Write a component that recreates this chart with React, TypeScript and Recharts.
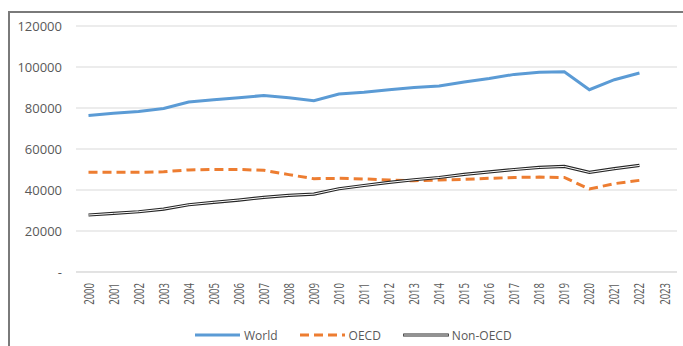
import React from 'react';
import { LineChart, Line, XAxis, YAxis, CartesianGrid, Legend } from 'recharts';

const years = [
  '2000', '2001', '2002', '2003', '2004', '2005', '2006', '2007', '2008', '2009', '2010', '2011',
  '2012', '2013', '2014', '2015', '2016', '2017', '2018', '2019', '2020', '2021', '2022', '2023',
];

const world = [
  76400, 77400, 78300, 79800, 82900, 84000, 85000, 86100, 85000, 83600, 86800, 87700,
  88900, 90000, 90700, 92700, 94400, 96400, 97400, 97700, 88900, 93800, 97100, null,
];

const oecd = [
  48600, 48600, 48600, 48900, 49800, 50000, 50000, 49600, 47500, 45500, 45700, 45400,
  44900, 44500, 44900, 45200, 45700, 46100, 46300, 46100, 40500, 43100, 44700, null,
];

const nonOecd = [
  27800, 28600, 29400, 30700, 32800, 34000, 35100, 36400, 37400, 38000, 40600, 42200,
  43700, 45000, 46100, 47600, 48800, 50000, 51000, 51500, 48600, 50400, 52000, null,
];

const yTicks = [0, 20000, 40000, 60000, 80000, 100000, 120000];

const data = years.map((year, i) => ({
  year,
  world: world[i],
  oecd: oecd[i],
  nonOecd: nonOecd[i],
}));

const FONT = '"Open Sans", "Noto Sans", sans-serif';
const TEXT = '#595959';

// Excel squeezes the rotated year labels, so they are narrowed along the text
const YearTick = (props: any) => {
  const { x, y, payload } = props;
  return (
    <text
      transform={`translate(${x},${y + 3}) rotate(-90) scale(0.68,1)`}
      textAnchor="end"
      dy="0.36em"
      fill={TEXT}
      fontSize={14}
      fontFamily={FONT}
    >
      {payload.value}
    </text>
  );
};

const LegendContent = () => {
  const item = (label: string, line: React.ReactNode, gapAfter: number) => (
    <div style={{ display: 'flex', alignItems: 'center', marginRight: gapAfter }}>
      <svg width={46} height={8} style={{ marginRight: 3 }}>
        {line}
      </svg>
      <span>{label}</span>
    </div>
  );
  return (
    <div
      style={{
        display: 'flex',
        alignItems: 'center',
        paddingLeft: 195,
        fontFamily: FONT,
        fontSize: 12,
        color: TEXT,
        height: 22,
      }}
    >
      {item('World', <line x1={0} y1={4} x2={45} y2={4} stroke="#5B9BD5" strokeWidth={3} />, 22)}
      {item(
        'OECD',
        <line x1={0} y1={4} x2={45} y2={4} stroke="#ED7D31" strokeWidth={3} strokeDasharray="9 5" />,
        22,
      )}
      {item(
        'Non-OECD',
        <g>
          <line x1={1} y1={4} x2={45} y2={4} stroke="#262626" strokeWidth={3.2} strokeLinecap="round" />
          <line x1={1} y1={4} x2={45} y2={4} stroke="#ffffff" strokeWidth={1} strokeLinecap="round" />
        </g>,
        0,
      )}
    </div>
  );
};

export default function App() {
  return (
    <div style={{ position: 'fixed', left: 0, top: 0, width: 683, height: 346, background: '#fff' }}>
      <div
        style={{
          position: 'absolute',
          left: 8,
          top: 11,
          width: 675,
          height: 335,
          borderLeft: '2px solid #7a7a7a',
          borderTop: '2px solid #7a7a7a',
          boxSizing: 'border-box',
        }}
      />
      <div style={{ position: 'absolute', left: 0, top: 0 }}>
        <LineChart width={683} height={346} data={data} margin={{ top: 26, right: 6, left: 0, bottom: 0 }}>
          <CartesianGrid vertical={false} stroke="#d9d9d9" strokeWidth={1} />
          <XAxis
            dataKey="year"
            interval={0}
            height={52}
            padding={{ left: 12.5, right: 12.5 }}
            axisLine={{ stroke: '#d9d9d9' }}
            tickLine={false}
            tick={<YearTick />}
          />
          <YAxis
            width={76}
            domain={[0, 120000]}
            ticks={yTicks}
            axisLine={false}
            tickLine={false}
            tickMargin={8}
            tickFormatter={(v: number) => (v === 0 ? '-' : String(v))}
            tick={{ fill: TEXT, fontSize: 13, fontFamily: FONT }}
          />
          <Legend verticalAlign="bottom" height={22} wrapperStyle={{ bottom: 0, left: 0 }} content={<LegendContent />} />
          <Line
            dataKey="world"
            type="linear"
            stroke="#5B9BD5"
            strokeWidth={3}
            dot={false}
            isAnimationActive={false}
          />
          <Line
            dataKey="oecd"
            type="linear"
            stroke="#ED7D31"
            strokeWidth={3}
            strokeDasharray="9 5"
            dot={false}
            isAnimationActive={false}
          />
          <Line
            dataKey="nonOecd"
            type="linear"
            stroke="#262626"
            strokeWidth={3.2}
            dot={false}
            isAnimationActive={false}
          />
          <Line
            dataKey="nonOecd"
            type="linear"
            stroke="#ffffff"
            strokeWidth={1}
            dot={false}
            legendType="none"
            isAnimationActive={false}
          />
        </LineChart>
      </div>
    </div>
  );
}
